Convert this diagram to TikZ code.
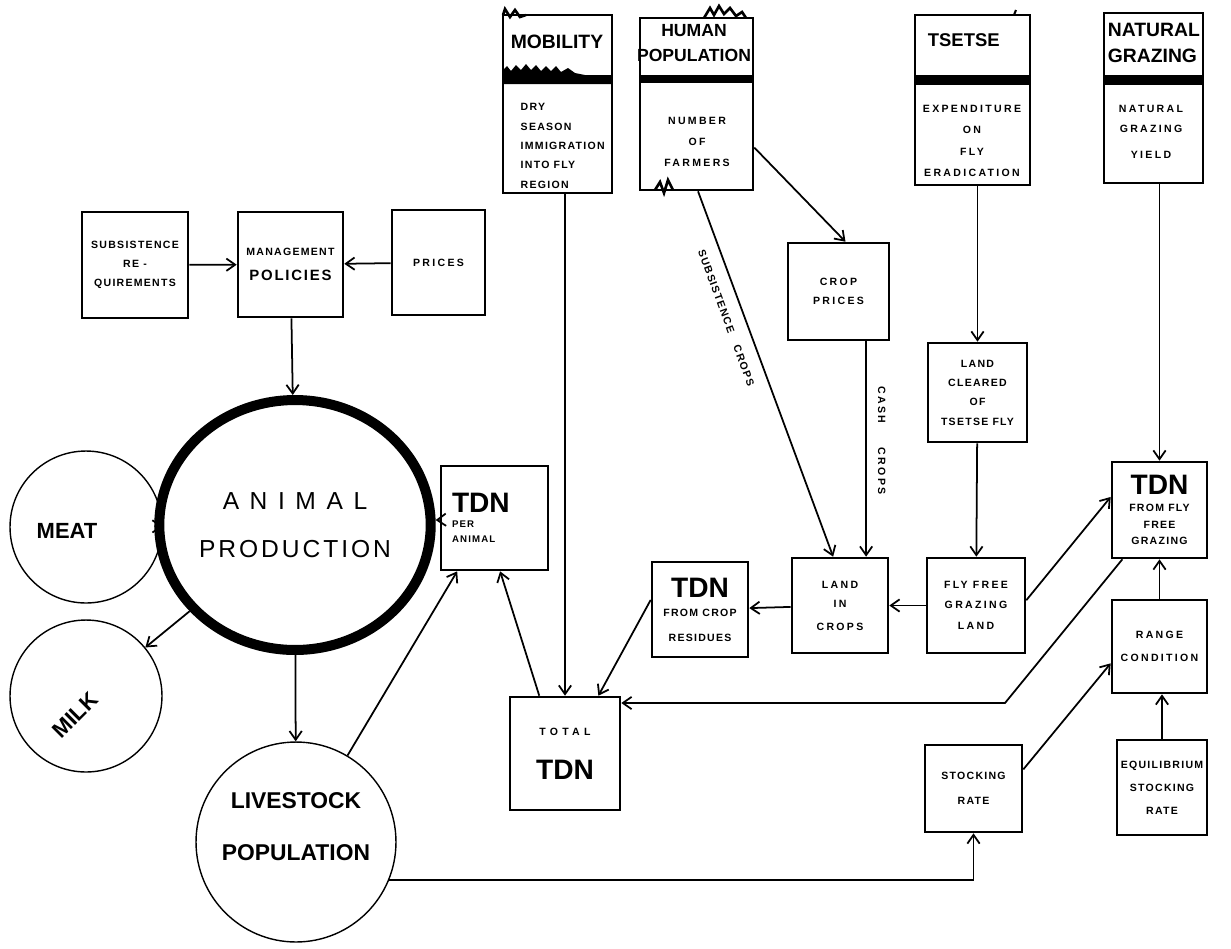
\documentclass[tikz,border=0pt]{standalone}
\usepackage{fontspec}
\setmainfont{Liberation Sans}
\newfontfamily\lblfont[LetterSpace=12]{Liberation Sans}
\newfontfamily\wlblfont[LetterSpace=22]{Liberation Sans}
\usetikzlibrary{arrows.meta,shapes.geometric}
\newcommand\tdnsize{\normalfont\bfseries\fontsize{16}{18}\selectfont}
\begin{document}
\begin{tikzpicture}[x=0.02cm, y=-0.02cm, line width=1pt, >={Straight Barb[length=5pt,width=7pt]},
	box/.style={draw, line width=1.5pt, inner sep=0pt, align=center},
	txt/.style={font=\lblfont\bfseries\fontsize{6}{11}\selectfont, align=center},
	wtxt/.style={font=\wlblfont\bfseries\fontsize{6}{11}\selectfont, align=center},
	head/.style={font=\bfseries\fontsize{11}{14}\selectfont, align=left, inner sep=0pt},
	ring/.style={draw, circle, line width=0.8pt, inner sep=0pt},
	big/.style={font=\bfseries\fontsize{12.5}{15}\selectfont}]
		\useasboundingbox (0,0) rectangle (1231,948);
		\node[box, txt, minimum width=2.12cm, minimum height=2.12cm] (subs) at (135,265) {SUBSISTENCE\\RE -\\QUIREMENTS};
		\node[box, txt, minimum width=2.1cm, minimum height=2.1cm] (mgmt) at (290.5,264.5) {MANAGEMENT\\[3pt]{\fontsize{8.5}{10}\selectfont POLICIES}};
		\node[box, wtxt, minimum width=1.86cm, minimum height=2.1cm] (prices) at (438.5,262.5) {PRICES};
		\node[draw, ellipse, line width=5.7pt, minimum width=4.68cm, minimum height=5cm, inner sep=0pt, align=center, font=\fontsize{14}{17}\selectfont] (animal) at (295,525) {{\addfontfeature{LetterSpace=43}ANIMAL}\\[10pt]{\addfontfeature{LetterSpace=12}PRODUCTION}};
		\node[ring, minimum size=3.04cm, label={[big, xshift=-0.38cm, yshift=-0.08cm]center:MEAT}] (meat) at (86,527) {};
		\node[ring, minimum size=3.04cm, label={[big, xshift=-0.22cm, yshift=-0.38cm, rotate=45]center:MILK}] (milk) at (86,696) {};
		\node[ring, minimum size=4cm, label={[big, font=\bfseries\fontsize{13}{16}\selectfont, align=center, yshift=0.31cm]center:{LIVESTOCK\\[14pt]POPULATION}}] (livestock) at (296,842) {};
		\node[box, txt, align=left, text width=1.7cm, minimum width=2.14cm, minimum height=2.08cm, font=\lblfont\bfseries\fontsize{5.5}{8.5}\selectfont] (tdnanimal) at (494.5,518) {{\tdnsize TDN}\\PER\\ANIMAL};
		\node[box, txt, minimum width=2.2cm, minimum height=2.26cm] (total) at (565,753.5) {{\addfontfeature{LetterSpace=40}TOTAL}\\[13pt]{\tdnsize TDN}};
		\node[box, minimum width=2.18cm, minimum height=3.56cm] (mobility) at (557.5,104) {};
		\node[head] (mobhead) at (557,42) {MOBILITY};
		\node[txt, align=left, anchor=west] (mobtext) at (514,146) {DRY\\SEASON\\IMMIGRATION\\INTO FLY\\REGION};
		\fill (503,84) -- (503,70) -- (507,66) -- (511,71) -- (516,65) -- (521,70) -- (526,64) -- (531,70) -- (536,65) -- (541,71) -- (546,66) -- (551,71) -- (556,66) -- (561,72) -- (568,68) -- (575,73) -- (585,75) -- (612,75) -- (612,84) -- cycle;
		\draw[line width=1.5pt] (503,15) -- (505,9) -- (510,17) -- (515,10) -- (520,17) -- (526,15);
		\node[box, minimum width=2.26cm, minimum height=3.44cm] (humpop) at (696.5,104) {};
		\node[head, align=center, font=\bfseries\fontsize{10}{14}\selectfont] (humhead) at (694,43) {HUMAN\\POPULATION};
		\fill (humpop.west |- 0,75) rectangle (humpop.east |- 0,83);
		\node[wtxt] (humtext) at (697,142) {NUMBER\\[1pt]OF\\[1pt]FARMERS};
		\draw[line width=1.5pt] (704,18) -- (710,8) -- (714,15) -- (719,6) -- (724,14) -- (730,8) -- (736,16) -- (742,12) -- (746,18);
		\draw[line width=1.5pt] (655,190) -- (660,182) -- (664,193) -- (668,180) -- (673,190);
		\node[box, minimum width=2.3cm, minimum height=3.4cm] (tsetse) at (972.5,100) {};
		\node[head, anchor=west, font=\bfseries\fontsize{10.5}{13}\selectfont] (tsehead) at (927,40) {TSETSE};
		\fill (tsetse.west |- 0,75) rectangle (tsetse.east |- 0,85);
		\node[wtxt] (tsetext) at (972,141) {EXPENDITURE\\[1.3pt]ON\\[1.3pt]FLY\\[1.3pt]ERADICATION};
		\draw[line width=1.2pt] (1014,15) -- (1016,10);
		\node[box, minimum width=1.98cm, minimum height=3.4cm] (natgraz) at (1153.5,98) {};
		\node[head, anchor=west, font=\bfseries\fontsize{11}{15}\selectfont] (nathead) at (1107,43) {NATURAL\\GRAZING};
		\fill (natgraz.west |- 0,75) rectangle (natgraz.east |- 0,85);
		\node[wtxt] (nattext) at (1151,132) {NATURAL\\GRAZING\\[4pt]YIELD};
		\node[box, wtxt, minimum width=2.02cm, minimum height=1.94cm] (cropprices) at (838.5,291.5) {CROP\\PRICES};
		\node[box, txt, minimum width=1.98cm, minimum height=1.98cm] (cleared) at (977.5,392.5) {LAND\\CLEARED\\OF\\TSETSE FLY};
		\node[box, txt, minimum width=1.9cm, minimum height=1.92cm, font=\lblfont\bfseries\fontsize{6}{9.6}\selectfont] (tdnfly) at (1159.5,510) {{\tdnsize TDN}\\FROM FLY\\FREE\\GRAZING};
		\node[box, wtxt, minimum width=1.96cm, minimum height=1.9cm] (flyland) at (976,605.5) {FLY FREE\\GRAZING\\[1pt]LAND};
		\node[box, wtxt, minimum width=1.92cm, minimum height=1.9cm] (landcrops) at (840,605.5) {LAND\\IN\\[2pt]CROPS};
		\node[box, txt, minimum width=1.92cm, minimum height=1.9cm] (tdncrop) at (700,609.5) {{\tdnsize TDN}\\FROM CROP\\[3pt]RESIDUES};
		\node[box, txt, minimum width=1.94cm, minimum height=1.74cm] (stocking) at (973.5,788.5) {STOCKING\\[3pt]RATE};
		\node[box, wtxt, minimum width=1.9cm, minimum height=1.86cm] (range) at (1159.5,646.5) {RANGE\\[2pt]CONDITION};
		\node[box, txt, minimum width=1.8cm, minimum height=1.9cm] (equil) at (1162,787.5) {EQUILIBRIUM\\[2pt]STOCKING\\[2pt]RATE};
		\coordinate (bend) at (1005,703);
		\draw[->] (subs) -- (mgmt);
		\draw[->] (prices) -- (mgmt);
		\draw[->] (mgmt) -- (animal);
		\draw[->] (animal) -- (meat);
		\draw[->] (animal) -- (milk);
		\draw[->] (animal) -- (livestock);
		\draw[->] (tdnanimal) -- (animal);
		\draw[->] (livestock) -- (tdnanimal.-125);
		\draw[->] (total.114) -- (tdnanimal.-84);
		\draw[->] (total.north |- mobility.south) -- (total.north);
		\draw[->] (tdncrop.169) -- (total.60);
		\draw[->] (landcrops) -- (tdncrop);
		\draw[->] (flyland) -- (landcrops);
		\draw[->] (humpop.-37) -- (cropprices.82);
		\draw[->] (humpop.-89) -- node[pos=0.33, sloped, below=4pt, txt] (subslbl) {SUBSISTENCE\hspace{8pt}CROPS} (landcrops.98);
		\draw[->] (cropprices.-61) -- node[pos=0.46, sloped, above=3pt, wtxt] (cashlbl) {CASH\hspace{14pt}CROPS} (cropprices.-61 |- landcrops.north);
		\draw[->] (cleared.north |- tsetse.south) -- (cleared.north);
		\draw[->] (cleared) -- (flyland);
		\draw[->] (tdnfly.north |- natgraz.south) -- (tdnfly.north);
		\draw[->] (flyland.6) -- (tdnfly.165);
		\draw[->] (tdnfly.-127) -- (bend) -- (bend -| total.east);
		\draw[->] (livestock.-22) -- (livestock.-22 -| stocking.south) -- (stocking.south);
		\draw[->] (stocking.21) -- (range.-161);
		\draw[->] (range) -- (tdnfly);
		\draw[->] (equil.north) -- (equil.north |- range.south);
	\end{tikzpicture}
\end{document}
